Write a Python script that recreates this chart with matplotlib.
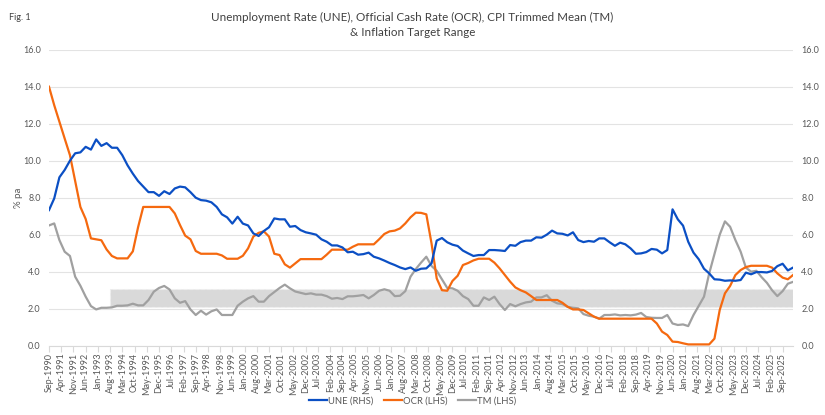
import numpy as np
import pandas as pd
import matplotlib
matplotlib.use("Agg")
import matplotlib.pyplot as plt

plt.rcParams['font.family'] = ['Lato', 'DejaVu Sans']

# quarterly observations starting Sep-1990
start = "1990-09-01"

une = [7.33, 7.96, 9.1, 9.5, 10.0, 10.4, 10.45, 10.75, 10.6, 11.15,
       10.8, 10.95, 10.7, 10.7, 10.3, 9.75, 9.3, 8.9, 8.6, 8.3,
       8.3, 8.1, 8.35, 8.2, 8.5, 8.6, 8.56, 8.3, 8.0, 7.87,
       7.84, 7.75, 7.5, 7.1, 6.94, 6.6, 6.97, 6.6, 6.5, 6.07,
       5.93, 6.2, 6.4, 6.88, 6.83, 6.83, 6.43, 6.47, 6.25, 6.13,
       6.07, 6.0, 5.75, 5.62, 5.42, 5.42, 5.31, 5.05, 5.08, 4.92,
       4.95, 5.03, 4.81, 4.72, 4.6, 4.47, 4.36, 4.23, 4.14, 4.23,
       4.05, 4.16, 4.18, 4.45, 5.68, 5.82, 5.59, 5.46, 5.39, 5.14,
       4.99, 4.85, 4.9, 4.9, 5.17, 5.17, 5.15, 5.12, 5.44, 5.4,
       5.6, 5.68, 5.68, 5.86, 5.84, 6.0, 6.22, 6.07, 6.05, 5.96,
       6.13, 5.71, 5.6, 5.66, 5.62, 5.8, 5.8, 5.59, 5.4, 5.57,
       5.48, 5.26, 4.97, 4.99, 5.06, 5.23, 5.19, 4.99, 5.17, 7.37,
       6.83, 6.49, 5.62, 5.03, 4.67, 4.16, 3.91, 3.59, 3.57, 3.51,
       3.53, 3.51, 3.55, 3.95, 3.86, 3.98, 3.98, 3.96, 4.04, 4.3,
       4.43, 4.07, 4.22]

ocr = [14.0, 13.0, 12.1, 11.2, 10.3, 8.9, 7.5, 6.85, 5.8, 5.75,
       5.7, 5.2, 4.85, 4.72, 4.72, 4.72, 5.1, 6.4, 7.5, 7.5,
       7.5, 7.5, 7.5, 7.5, 7.15, 6.52, 5.95, 5.75, 5.12, 4.97,
       4.97, 4.97, 4.97, 4.88, 4.7, 4.7, 4.7, 4.86, 5.26, 5.9,
       6.1, 6.18, 5.9, 4.97, 4.9, 4.4, 4.22, 4.45, 4.68, 4.68,
       4.68, 4.68, 4.68, 4.92, 5.19, 5.19, 5.19, 5.19, 5.35, 5.48,
       5.48, 5.48, 5.48, 5.75, 6.04, 6.18, 6.22, 6.34, 6.61, 6.94,
       7.19, 7.18, 7.1, 5.53, 3.64, 3.0, 2.97, 3.5, 3.78, 4.36,
       4.47, 4.61, 4.7, 4.7, 4.7, 4.49, 4.18, 3.82, 3.46, 3.15,
       3.0, 2.88, 2.68, 2.47, 2.47, 2.47, 2.47, 2.47, 2.32, 2.1,
       1.96, 1.96, 1.93, 1.75, 1.57, 1.46, 1.46, 1.46, 1.46, 1.46,
       1.46, 1.46, 1.46, 1.46, 1.46, 1.46, 1.2, 0.76, 0.58, 0.22,
       0.2, 0.13, 0.07, 0.07, 0.07, 0.07, 0.07, 0.38, 1.93, 2.83,
       3.23, 3.82, 4.09, 4.25, 4.32, 4.32, 4.32, 4.32, 4.22, 3.91,
       3.68, 3.59, 3.82]

tm = [6.5, 6.61, 5.71, 5.08, 4.85, 3.73, 3.24, 2.65, 2.14, 1.96,
      2.05, 2.05, 2.07, 2.16, 2.16, 2.18, 2.27, 2.18, 2.18, 2.47,
      2.92, 3.12, 3.23, 3.04, 2.56, 2.32, 2.41, 1.96, 1.66, 1.89,
      1.68, 1.86, 1.96, 1.66, 1.66, 1.66, 2.16, 2.38, 2.56, 2.68,
      2.38, 2.38, 2.68, 2.9, 3.12, 3.3, 3.1, 2.93, 2.86, 2.79,
      2.83, 2.76, 2.76, 2.68, 2.54, 2.58, 2.52, 2.67, 2.67, 2.7,
      2.74, 2.56, 2.74, 2.97, 3.05, 2.97, 2.68, 2.7, 2.95, 3.73,
      4.14, 4.49, 4.81, 4.31, 4.05, 3.59, 3.12, 3.1, 2.97, 2.68,
      2.52, 2.16, 2.16, 2.61, 2.47, 2.65, 2.25, 1.93, 2.25, 2.13,
      2.25, 2.34, 2.38, 2.61, 2.61, 2.73, 2.43, 2.29, 2.25, 2.1,
      2.05, 2.02, 1.71, 1.62, 1.57, 1.46, 1.66, 1.66, 1.69, 1.64,
      1.66, 1.64, 1.68, 1.77, 1.55, 1.51, 1.5, 1.5, 1.66, 1.2,
      1.12, 1.15, 1.06, 1.66, 2.16, 2.65, 3.9, 4.95, 6.0, 6.72,
      6.43, 5.71, 5.08, 4.22, 4.0, 4.05, 3.7, 3.4, 3.0, 2.68,
      2.95, 3.35, 3.45]

# inflation target band
band_start = "1993-08-01"
band_low = 2.1
band_high = 3.05

dates = pd.date_range(start, periods=len(une), freq="3MS")
tick_dates = pd.date_range(start, dates[-1], freq="7MS")

grey_txt = "#595959"
fig = plt.figure(figsize=(8.25, 4.15), dpi=100)
ax = fig.add_axes([49 / 825, 1 - 345.7 / 415, 744 / 825, 296 / 415])
ax2 = ax.twinx()

band_x = [pd.Timestamp(band_start), dates[-1]]
ax.fill_between(band_x, band_low, band_high, color="#d9d9d9",
                edgecolor="#eeeeee", linestyle="--", linewidth=0.8, zorder=1)

l_tm, = ax.plot(dates, tm, color="#a0a0a0", lw=1.6, zorder=3)
l_ocr, = ax.plot(dates, ocr, color="#f5690f", lw=1.6, zorder=4)
l_une, = ax2.plot(dates, une, color="#0b4fc4", lw=1.6)

for a in (ax, ax2):
    a.set_ylim(0, 16)
    a.set_yticks(np.arange(0, 17, 2))
    a.set_yticklabels([f"{v:.1f}" for v in np.arange(0, 17, 2)])
    a.tick_params(axis="y", length=0, labelsize=6.5, labelcolor=grey_txt, pad=6)
    for s in a.spines.values():
        s.set_visible(False)

ax.spines["bottom"].set_visible(True)
ax.spines["bottom"].set_color("#d9d9d9")
ax.yaxis.grid(True, color="#e3e3e3", lw=0.8)
ax.set_axisbelow(True)

ax.set_xlim(dates[0], dates[-1])
ax.set_xticks(tick_dates)
ax.set_xticklabels([d.strftime("%b-%Y") for d in tick_dates], rotation=90,
                   fontsize=6.5, color=grey_txt)
ax.tick_params(axis="x", length=4, color="#d9d9d9", pad=1)

ax.set_ylabel("% pa", fontsize=7, color=grey_txt, labelpad=0)

fig.text(0.5, 1 - 17 / 415,
         "Unemployment Rate (UNE), Official Cash Rate (OCR), CPI Trimmed Mean (TM)",
         ha="center", va="center", fontsize=8.4, color="#404040")
fig.text(0.5, 1 - 33 / 415, "& Inflation Target Range",
         ha="center", va="center", fontsize=8.4, color="#404040")
fig.text(9 / 825, 1 - 18 / 415, "Fig. 1", ha="left", va="center",
         fontsize=6.5, color="#404040")

fig.legend([l_une, l_ocr, l_tm], ["UNE (RHS)", "OCR (LHS)", "TM (LHS)"],
           loc="center", bbox_to_anchor=(0.5, 1 - 401 / 415), ncol=3,
           frameon=False, fontsize=6.8, handlelength=1.9, columnspacing=1.1,
           handletextpad=0.15, labelcolor=grey_txt)

fig.savefig("out.png", dpi=100)
